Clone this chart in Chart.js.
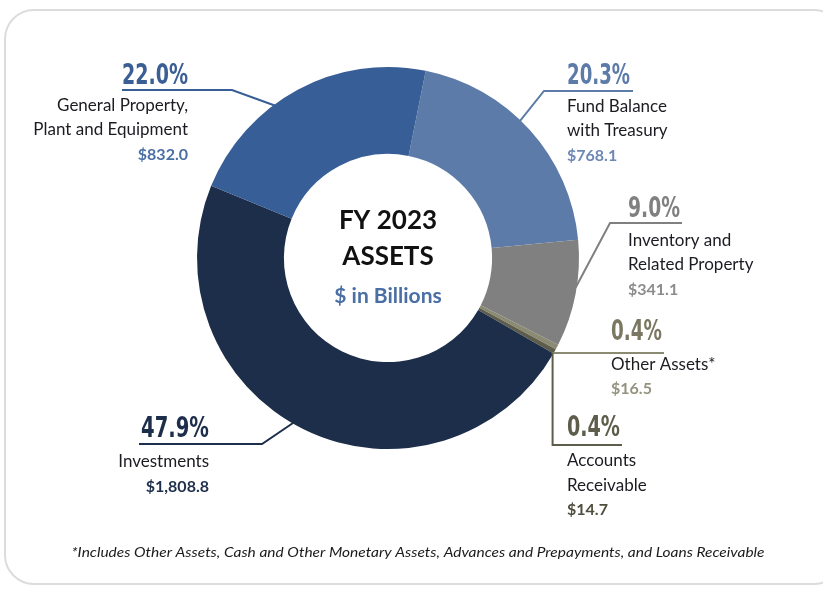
<!DOCTYPE html>
<html><head><meta charset="utf-8">
<script src="https://cdn.jsdelivr.net/npm/chart.js@4"></script>
<style>
html,body{margin:0;padding:0;background:#fff;width:823px;height:589px;overflow:hidden}
#frame{position:absolute;left:4px;top:9px;width:840px;height:576px;border:2px solid #dcdcdc;border-radius:30px;box-sizing:border-box}
#wrap{position:absolute;left:0;top:0;width:823px;height:589px}
</style></head><body>
<div id="frame"></div>
<div id="wrap"><canvas id="c" width="823" height="589"></canvas></div>
<script>
// ---- data ----
const categories = ["Fund Balance with Treasury","Inventory and Related Property","Other Assets*","Accounts Receivable","Investments","General Property, Plant and Equipment"];
const values = [768.1, 341.1, 16.5, 14.7, 1808.8, 832.0];
const pctLabels = ["20.3%","9.0%","0.4%","0.4%","47.9%","22.0%"];
const valueLabels = ["$768.1","$341.1","$16.5","$14.7","$1,808.8","$832.0"];
const nameLines = [["Fund Balance","with Treasury"],["Inventory and","Related Property"],["Other Assets*"],["Accounts","Receivable"],["Investments"],["General Property,","Plant and Equipment"]];
const centerTitle = ["FY 2023","ASSETS"];
const centerSub = "$ in Billions";
const footnote = "*Includes Other Assets, Cash and Other Monetary Assets, Advances and Prepayments, and Loans Receivable";

// ---- styles ----
const sliceColors = ["#5c7ba8","#808080","#8b8a72","#5e5d4b","#1d2e4b","#375e96"];
const pctColors   = ["#5c7ba8","#808080","#7a7862","#5e5d4b","#1d2e4b","#3b5f94"];
const valColors   = ["#6d88b4","#8c8c8c","#94937f","#4e4d3e","#1d2e4b","#4a6fa5"];
const layoutSpec = [
  {align:'left',  tx:567, pctY:84,  pctW:63, kind:'elbow', frac:0.445, lineY:91,  elbowX:544, endX:633, nameY:[107,131], valY:156},
  {align:'left',  tx:628, pctY:217, pctW:52, kind:'elbow', frac:0.444, lineY:223, elbowX:610, endX:682, nameY:[241,265], valY:290},
  {align:'left',  tx:611, pctY:340, pctW:51, kind:'horiz', frac:'endNext', endX:664, nameY:[365], valY:389},
  {align:'left',  tx:567, pctY:436, pctW:53, kind:'vert',  frac:1, lineY:445, endX:622, nameY:[461,486], valY:510},
  {align:'right', tx:209, pctY:437, pctW:68, kind:'elbow', frac:0.522, lineY:444, elbowX:262, endX:139, nameY:[462], valY:487},
  {align:'right', tx:188, pctY:84,  pctW:66, kind:'elbow', frac:0.394, lineY:90,  elbowX:232, endX:122, nameY:[106,130], valY:155}
];
const PCT_FONT = 'bold 29px "Liberation Sans Narrow", "DejaVu Sans Condensed", "Roboto", sans-serif';

function drawText(ctx, text, x, y, align, font, color, targetW, baseline) {
  ctx.save();
  ctx.font = font;
  const w = ctx.measureText(text).width;
  const sx = targetW ? targetW / w : 1;
  ctx.translate(x, y);
  ctx.scale(sx, 1);
  ctx.textAlign = align;
  ctx.textBaseline = baseline || 'alphabetic';
  ctx.fillStyle = color;
  ctx.fillText(text, 0, 0);
  ctx.restore();
}

const labelPlugin = {
  id: 'labels',
  afterDraw(chart) {
    const ctx = chart.ctx;
    const meta = chart.getDatasetMeta(0);
    const arcs = meta.data;
    const cx = arcs[0].x, cy = arcs[0].y;
    arcs.forEach((arc, i) => {
      const L = layoutSpec[i];
      const R = arc.outerRadius - 1;
      let a;
      if (L.frac === 'endNext') a = arcs[i + 1].endAngle;
      else a = arc.startAngle + (arc.endAngle - arc.startAngle) * L.frac;
      const px = cx + Math.cos(a) * R, py = cy + Math.sin(a) * R;
      ctx.save();
      ctx.strokeStyle = sliceColors[i];
      ctx.lineWidth = 2;
      ctx.beginPath();
      ctx.moveTo(px, py);
      if (L.kind === 'elbow') { ctx.lineTo(L.elbowX, L.lineY); ctx.lineTo(L.endX, L.lineY); }
      else if (L.kind === 'horiz') { ctx.lineTo(L.endX, py); }
      else { ctx.lineTo(px, L.lineY); ctx.lineTo(L.endX, L.lineY); }
      ctx.stroke();
      ctx.restore();
      drawText(ctx, pctLabels[i], L.tx, L.pctY, L.align, PCT_FONT, pctColors[i], L.pctW);
      nameLines[i].forEach((t, k) => {
        drawText(ctx, t, L.tx, L.nameY[k], L.align, '17px Lato', '#1b1b22', null, 'middle');
      });
      drawText(ctx, valueLabels[i], L.tx, L.valY, L.align, 'bold 16px Lato', valColors[i], null, 'middle');
    });
    // center text
    drawText(ctx, centerTitle[0], cx, cy - 37, 'center', 'bold 26px Lato', '#111111', null, 'middle');
    drawText(ctx, centerTitle[1], cx, cy - 1, 'center', 'bold 26px Lato', '#111111', null, 'middle');
    drawText(ctx, centerSub, cx, cy + 38, 'center', 'bold 21px Lato', '#4a6fa5', null, 'middle');
    // footnote
    drawText(ctx, footnote, 418, 552, 'center', 'italic 14px Lato', '#1b1b1b', 693, 'middle');
  }
};

new Chart(document.getElementById('c'), {
  type: 'doughnut',
  data: {
    labels: categories,
    datasets: [{ data: values, backgroundColor: sliceColors, borderWidth: 0 }]
  },
  options: {
    responsive: false,
    animation: false,
    rotation: 11.4,
    cutout: '54.5%',
    layout: { padding: { top: 67, bottom: 140, left: 197, right: 244 } },
    plugins: { legend: { display: false }, tooltip: { enabled: false } }
  },
  plugins: [labelPlugin]
});
</script>
</body></html>
